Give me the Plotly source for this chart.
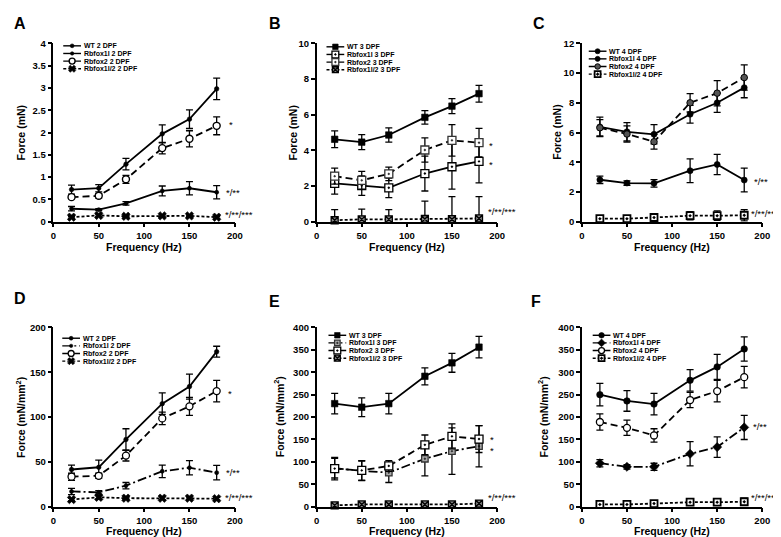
import numpy as np
import plotly.graph_objects as go

W, H = 781, 537
FONT = "Liberation Sans, Arial, sans-serif"

# ---------------- data ----------------
freq = [20, 50, 80, 120, 150, 180]

# A: force (mN), 2 DPF
wt_2 = [0.72, 0.75, 1.29, 1.97, 2.30, 2.98]
wt_2_err = [0.10, 0.08, 0.13, 0.20, 0.21, 0.24]
rbfox1l_2 = [0.29, 0.27, 0.41, 0.69, 0.75, 0.66]
rbfox1l_2_err = [0.05, 0.02, 0.04, 0.11, 0.15, 0.15]
rbfox2_2 = [0.55, 0.58, 0.95, 1.65, 1.86, 2.15]
rbfox2_2_err = [0.04, 0.05, 0.09, 0.13, 0.18, 0.20]
dko_2 = [0.10, 0.14, 0.12, 0.13, 0.13, 0.10]
dko_2_err = [0.02, 0.02, 0.02, 0.02, 0.02, 0.02]

# B: force (mN), 3 DPF
wt_3 = [4.62, 4.46, 4.86, 5.85, 6.48, 7.18]
wt_3_err = [0.47, 0.42, 0.40, 0.38, 0.42, 0.47]
rbfox1l_3 = [2.15, 2.02, 1.90, 2.70, 3.08, 3.38]
rbfox1l_3_err = [0.60, 0.55, 0.55, 0.98, 1.25, 1.20]
rbfox2_3 = [2.55, 2.32, 2.68, 4.02, 4.56, 4.43]
rbfox2_3_err = [0.45, 0.50, 0.38, 0.68, 0.88, 0.80]
dko_3 = [0.08, 0.13, 0.13, 0.15, 0.14, 0.18]
dko_3_err = [0.60, 0.57, 0.55, 1.00, 1.27, 1.22]

# C: force (mN), 4 DPF
wt_4 = [6.38, 6.05, 5.88, 7.23, 8.00, 9.02]
wt_4_err = [0.65, 0.62, 0.65, 0.60, 0.65, 0.68]
rbfox1l_4 = [2.82, 2.60, 2.58, 3.43, 3.85, 2.80]
rbfox1l_4_err = [0.25, 0.15, 0.25, 0.80, 0.68, 0.80]
rbfox2_4 = [6.32, 5.90, 5.38, 8.00, 8.65, 9.70]
rbfox2_4_err = [0.55, 0.55, 0.50, 0.62, 0.85, 0.85]
dko_4 = [0.20, 0.20, 0.28, 0.40, 0.40, 0.43]
dko_4_err = [0.10, 0.10, 0.12, 0.28, 0.32, 0.38]

# D: specific force (mN/mm2), 2 DPF
wt_2s = [41.5, 44, 75, 115, 134, 173]
wt_2s_err = [5, 8, 12, 12, 14, 6]
rbfox1l_2s = [17, 16, 23.5, 39.5, 43.5, 38]
rbfox1l_2s_err = [3.5, 2, 3.5, 7, 8, 8]
rbfox2_2s = [33.5, 34.5, 57, 98.5, 112, 129]
rbfox2_2s_err = [4, 3, 6, 7, 10, 12]
dko_2s = [8, 10.5, 9.5, 9.5, 9.5, 9]
dko_2s_err = [1.5, 2, 1.5, 1.5, 1.5, 1.5]

# E: specific force (mN/mm2), 3 DPF
wt_3s = [230, 222, 230, 291, 321, 356]
wt_3s_err = [23, 21, 23, 19, 21, 24]
rbfox1l_3s = [86, 80, 76, 107, 124, 135]
rbfox1l_3s_err = [22, 22, 22, 38, 52, 46]
rbfox2_3s = [85, 81, 91, 138, 157, 151]
rbfox2_3s_err = [25, 22, 12, 22, 28, 30]
dko_3s = [3, 5, 5, 5, 5, 7]
dko_3s_err = [2, 2, 2, 2, 2, 3]

# F: specific force (mN/mm2), 4 DPF
wt_4s = [250, 236, 229, 282, 312, 352]
wt_4s_err = [25, 23, 24, 24, 28, 27]
rbfox1l_4s = [97, 89, 89, 118, 133, 177]
rbfox1l_4s_err = [8, 5, 8, 27, 23, 27]
rbfox2_4s = [189, 176, 159, 238, 258, 289]
rbfox2_4s_err = [18, 17, 15, 17, 24, 24]
dko_4s = [5, 5, 7, 10, 10, 11]
dko_4s_err = [2, 2, 3, 5, 6, 8]

names_2 = ["WT 2 DPF", "Rbfox1l 2 DPF", "Rbfox2 2 DPF", "Rbfox1l/2 2 DPF"]
names_3 = ["WT 3 DPF", "Rbfox1l 3 DPF", "Rbfox2 3 DPF", "Rbfox1l/2 3 DPF"]
names_4 = ["WT 4 DPF", "Rbfox1l 4 DPF", "Rbfox2 4 DPF", "Rbfox1l/2 4 DPF"]

# ---------------- styles ----------------
LONG = "7px,4px"
SHORT = "3px,2px"
DASHDOT = "9px,3px,2px,3px"


def st(dash, symbol, size, fill="black", edge="black", lw=0.6):
    return dict(dash=dash, symbol=symbol, size=size, fill=fill, edge=edge, lw=lw)


styles = {
    "A": [st("solid", "circle", 4.5), st("solid", "circle", 4),
          st(LONG, "circle", 7, fill="white", lw=1.4), st(SHORT, "x", 7.5)],
    "B": [st("solid", "square", 6.5),
          st("solid", "square-dot", 8, fill="white", lw=1.3),
          st(LONG, "square-dot", 8, fill="white", edge="#333", lw=1.3),
          st(SHORT, "square-x", 7, fill="#888", lw=1.3)],
    "C": [st("solid", "circle", 6), st("solid", "circle", 6),
          st(LONG, "circle", 6.5, fill="#555", lw=1.0),
          st(SHORT, "square-dot", 7, fill="white", lw=1.8)],
    "D": [st("solid", "circle", 4.5), st(DASHDOT, "circle", 4),
          st(LONG, "circle", 7, fill="white", lw=1.3), st(SHORT, "x", 7.5)],
    "E": [st("solid", "square", 6.5),
          st(DASHDOT, "square-dot", 6.5, fill="#aaa", edge="#333", lw=1.3),
          st(LONG, "square-dot", 8, fill="white", lw=1.3),
          st(SHORT, "square-x", 7, fill="#888", lw=1.3)],
    "F": [st("solid", "circle", 6.5), st(DASHDOT, "diamond", 7),
          st(LONG, "circle", 7, fill="white", lw=1.3),
          st(SHORT, "square-dot", 7, fill="white", lw=1.8)],
}

# panel layout in pixels: x-axis span, y-axis span (top, bottom), x-title offset below axis
panels = [
    dict(key="A", xs=(43, 227), ys=(30, 212), xto=26, ymax=4, dtick=0.5, ytitle="Force (mN)",
         series=[(wt_2, wt_2_err), (rbfox1l_2, rbfox1l_2_err), (rbfox2_2, rbfox2_2_err), (dko_2, dko_2_err)],
         names=names_2, leg=(53, 32.5), ytx=10, letter=(1, 10),
         stars=[(191, 2.24, "*"), (188, 0.73, "*/**"), (187, 0.23, "*/**/***")]),
    dict(key="B", xs=(310, 493), ys=(30, 212), xto=26, ymax=10, dtick=2, ytitle="Force (mN)",
         series=[(wt_3, wt_3_err), (rbfox1l_3, rbfox1l_3_err), (rbfox2_3, rbfox2_3_err), (dko_3, dko_3_err)],
         names=names_3, leg=(320, 33.5), ytx=286, letter=(260, 10),
         stars=[(189, 4.45, "*"), (189, 3.4, "*"), (188, 0.72, "*/**/***")]),
    dict(key="C", xs=(579, 762), ys=(30, 212), xto=26, ymax=12, dtick=2, ytitle="Force (mN)",
         series=[(wt_4, wt_4_err), (rbfox1l_4, rbfox1l_4_err), (rbfox2_4, rbfox2_4_err), (dko_4, dko_4_err)],
         names=names_4, leg=(586, 38), ytx=553, letter=(527, 10),
         stars=[(189, 2.88, "*/**"), (185, 0.72, "*/**/***")]),
    dict(key="D", xs=(43, 227), ys=(320, 503), xto=25, ymax=200, dtick=50, ytitle="Force (mN/mm<sup>2</sup>)",
         series=[(wt_2s, wt_2s_err), (rbfox1l_2s, rbfox1l_2s_err), (rbfox2_2s, rbfox2_2s_err), (dko_2s, dko_2s_err)],
         names=names_2, leg=(52, 331), ytx=9, letter=(1, 290.5),
         stars=[(190, 130, "*"), (188, 41, "*/**"), (187, 13.5, "*/**/***")]),
    dict(key="E", xs=(310, 493), ys=(320, 503), xto=25, ymax=400, dtick=50, ytitle="Force (mN/mm<sup>2</sup>)",
         series=[(wt_3s, wt_3s_err), (rbfox1l_3s, rbfox1l_3s_err), (rbfox2_3s, rbfox2_3s_err), (dko_3s, dko_3s_err)],
         names=names_3, leg=(322, 328), ytx=271, letter=(260, 294),
         stars=[(190.5, 156, "*"), (190.5, 131, "*"), (187.5, 28, "*/**/***")]),
    dict(key="F", xs=(579, 762), ys=(320, 503), xto=25, ymax=400, dtick=50, ytitle="Force (mN/mm<sup>2</sup>)",
         series=[(wt_4s, wt_4s_err), (rbfox1l_4s, rbfox1l_4s_err), (rbfox2_4s, rbfox2_4s_err), (dko_4s, dko_4s_err)],
         names=names_4, leg=(590, 328), ytx=539, letter=(525, 294),
         stars=[(187, 186, "*/**"), (185, 28, "*/**/***")]),
]

LEG_LEN = 18
LEG_PITCH = 7.8
LEG_FONT = 7

fig = go.Figure()
layout = {}


def marker_of(s, scale=1.0):
    return dict(symbol=s["symbol"], size=s["size"] * scale, color=s["fill"],
                line=dict(color=s["edge"], width=s["lw"]))


for k, p in enumerate(panels):
    n = k + 1
    xa = "x" if n == 1 else f"x{n}"
    ya = "y" if n == 1 else f"y{n}"
    xk = "xaxis" if n == 1 else f"xaxis{n}"
    yk = "yaxis" if n == 1 else f"yaxis{n}"
    x0, x1 = p["xs"]
    yt, yb = p["ys"]
    axis_common = dict(showline=True, linecolor="black", linewidth=1.5, ticks="outside",
                       ticklen=4, tickwidth=1.5, tickcolor="black", showgrid=False, zeroline=False,
                       tickfont=dict(family=FONT, size=9.5, color="black", weight="bold"), fixedrange=True)
    layout[xk] = dict(domain=[x0 / W, x1 / W], range=[0, 200], tick0=0, dtick=50, anchor=ya, **axis_common)
    layout[yk] = dict(domain=[1 - yb / H, 1 - yt / H], range=[0, p["ymax"]], tick0=0, dtick=p["dtick"],
                      anchor=xa, **axis_common)

    for (vals, err), s in zip(p["series"], styles[p["key"]]):
        v = np.array(vals, dtype=float)
        e = np.array(err, dtype=float)
        fig.add_trace(go.Scatter(
            x=freq, y=v, xaxis=xa, yaxis=ya, mode="lines+markers", showlegend=False,
            cliponaxis=False,
            line=dict(color="black", width=1.8, dash=s["dash"]),
            marker=marker_of(s),
            error_y=dict(type="data", array=e, arrayminus=np.minimum(e, v), color="black",
                         thickness=1.3, width=3.5)))

    # significance marks
    for sx, sy, txt in p["stars"]:
        fig.add_annotation(x=sx, y=sy, xref=xa, yref=ya, text=txt, showarrow=False,
                           xanchor="left", yanchor="middle", yshift=-3,
                           font=dict(family=FONT, size=9.5, color="black"))

    # axis titles
    fig.add_annotation(x=(x0 + x1) / 2 / W, y=1 - (yb + p["xto"]) / H, xref="paper", yref="paper",
                       text="Frequency (Hz)", showarrow=False, xanchor="center", yanchor="middle",
                       font=dict(family=FONT, size=10.5, color="black", weight="bold"))
    fig.add_annotation(x=p["ytx"] / W, y=1 - (yt + yb) / 2 / H, xref="paper", yref="paper",
                       text=p["ytitle"], showarrow=False, xanchor="center", yanchor="middle", textangle=-90,
                       font=dict(family=FONT, size=10.5, color="black", weight="bold"))
    # panel letter
    lx, ly = p["letter"]
    fig.add_annotation(x=lx / W, y=1 - ly / H, xref="paper", yref="paper", text=p["key"],
                       showarrow=False, xanchor="left", yanchor="middle",
                       font=dict(family=FONT, size=16, color="black", weight="bold"))

# ---- compact in-plot legends, drawn on a hidden full-figure pixel axis ----
layout["xaxis7"] = dict(domain=[0, 1], range=[0, W], visible=False, fixedrange=True, anchor="y7")
layout["yaxis7"] = dict(domain=[0, 1], range=[H, 0], visible=False, fixedrange=True, anchor="x7")

for p in panels:
    lx, ly = p["leg"]
    for i, (name, s) in enumerate(zip(p["names"], styles[p["key"]])):
        yy = ly + i * LEG_PITCH
        fig.add_trace(go.Scatter(x=[lx, lx + LEG_LEN], y=[yy, yy], xaxis="x7", yaxis="y7",
                                 mode="lines", showlegend=False, hoverinfo="skip",
                                 line=dict(color="black", width=1.4, dash=s["dash"])))
        fig.add_trace(go.Scatter(x=[lx + LEG_LEN / 2], y=[yy], xaxis="x7", yaxis="y7",
                                 mode="markers", showlegend=False, hoverinfo="skip", cliponaxis=False,
                                 marker=marker_of(s, 0.85)))
        fig.add_annotation(x=lx + LEG_LEN + 1, y=yy, xref="x7", yref="y7", text=name, showarrow=False,
                           xanchor="left", yanchor="middle",
                           font=dict(family=FONT, size=LEG_FONT, color="black", weight="bold"))

fig.update_layout(width=W, height=H, margin=dict(l=0, r=0, t=0, b=0),
                  paper_bgcolor="white", plot_bgcolor="rgba(0,0,0,0)", showlegend=False, **layout)

fig.write_html("out.html")
